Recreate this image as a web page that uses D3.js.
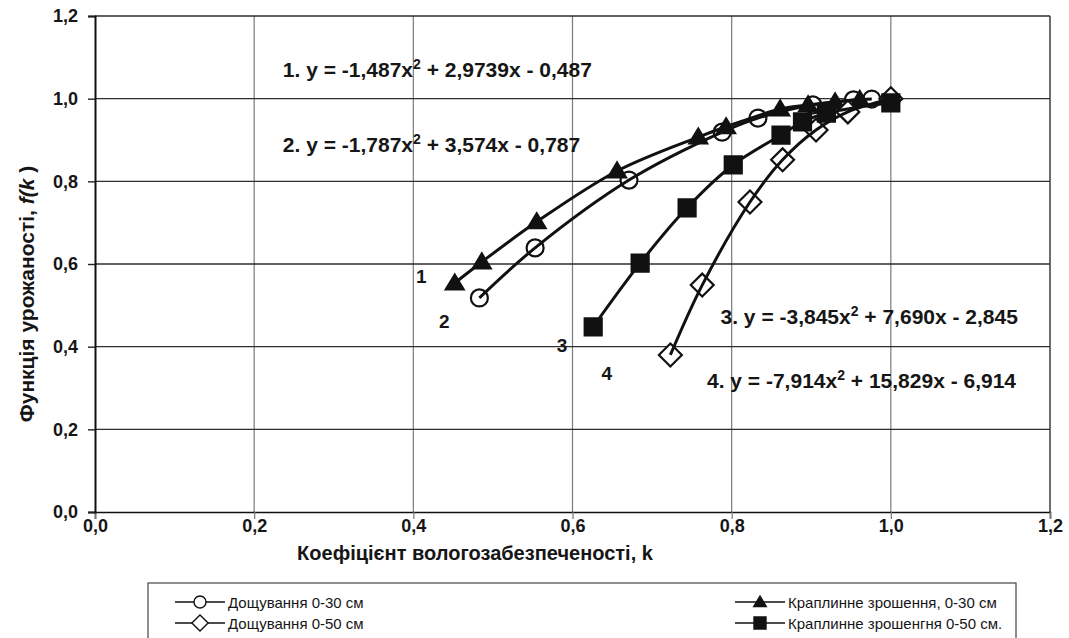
<!DOCTYPE html>
<html>
<head>
<meta charset="utf-8">
<script src="https://cdn.jsdelivr.net/npm/d3@7/dist/d3.min.js"></script>
<style>
  body { margin: 0; background: #fff; }
  svg { display: block; }
  text { font-family: "Liberation Sans", Arial, sans-serif; fill: #161616; }
</style>
</head>
<body>
<div id="chart"></div>
<script>
// Дощування 0-30 см (circles)
const kRain30 = [0.483, 0.553, 0.671, 0.788, 0.833, 0.902, 0.953, 0.976];
const fRain30 = [0.518, 0.639, 0.803, 0.919, 0.953, 0.985, 0.997, 0.999];
// Краплинне зрошення, 0-30 см (triangles)
const kDrip30 = [0.452, 0.486, 0.555, 0.656, 0.758, 0.793, 0.861, 0.896, 0.930, 0.961];
const fDrip30 = [0.554, 0.605, 0.702, 0.825, 0.907, 0.932, 0.975, 0.985, 0.992, 0.998];
// Дощування 0-50 см (diamonds)
const kRain50 = [0.723, 0.763, 0.823, 0.864, 0.906, 0.946, 1.0];
const fRain50 = [0.380, 0.549, 0.750, 0.852, 0.924, 0.968, 1.0];
// Краплинне зрошенгня 0-50 см. (squares)
const kDrip50 = [0.626, 0.685, 0.744, 0.802, 0.862, 0.889, 0.919, 1.0];
const fDrip50 = [0.448, 0.602, 0.736, 0.840, 0.912, 0.944, 0.965, 0.990];

const xTicks = [0, 0.2, 0.4, 0.6, 0.8, 1.0, 1.2];
const yTicks = [0, 0.2, 0.4, 0.6, 0.8, 1.0, 1.2];

const legendNames = ['Дощування 0-30 см', 'Краплинне зрошення, 0-30 см',
                     'Дощування 0-50 см', 'Краплинне зрошенгня 0-50 см.'];

// equation labels, anchored in data units
const equations = [
  { n: '1.', a: '-1,487', b: '2,9739', c: '0,487', k: 0.236, f: 1.052 },
  { n: '2.', a: '-1,787', b: '3,574',  c: '0,787', k: 0.236, f: 0.871 },
  { n: '3.', a: '-3,845', b: '7,690',  c: '2,845', k: 0.786, f: 0.455 },
  { n: '4.', a: '-7,914', b: '15,829', c: '6,914', k: 0.769, f: 0.300 }
];
const curveLabels = [
  { t: '1', k: 0.41, f: 0.553 },
  { t: '2', k: 0.439, f: 0.444 },
  { t: '3', k: 0.587, f: 0.387 },
  { t: '4', k: 0.643, f: 0.319 }
];

const width = 1069, height = 638;
const margin = { top: 16, right: 19, bottom: 126, left: 95 };

const svg = d3.select('#chart').append('svg')
  .attr('width', width).attr('height', height);

const x = d3.scaleLinear().domain([0, 1.2])
  .range([margin.left, width - margin.right]);
const y = d3.scaleLinear().domain([0, 1.2])
  .range([height - margin.bottom, margin.top]);

const fmt = d => d3.format('.1f')(d).replace('.', ',');

// grid
svg.append('g')
  .selectAll('line').data(xTicks.slice(1, -1)).join('line')
    .attr('x1', d => x(d)).attr('x2', d => x(d))
    .attr('y1', y(0)).attr('y2', y(1.2))
    .attr('stroke', '#7a7a7a').attr('stroke-width', 1.2);
svg.append('g')
  .selectAll('line').data(yTicks.slice(1)).join('line')
    .attr('x1', x(0)).attr('x2', x(1.2))
    .attr('y1', d => y(d)).attr('y2', d => y(d))
    .attr('stroke', '#2e2e2e').attr('stroke-width', 1.4);
svg.append('line')
  .attr('x1', x(1.2)).attr('x2', x(1.2)).attr('y1', y(0)).attr('y2', y(1.2))
  .attr('stroke', '#2e2e2e').attr('stroke-width', 1.4);

// axes
const xAxis = g => g
  .attr('transform', `translate(0,${y(0)})`)
  .call(d3.axisBottom(x).tickValues(xTicks).tickFormat(fmt).tickSize(7).tickPadding(0))
  .call(g => g.select('.domain').attr('stroke', '#111').attr('stroke-width', 1.6))
  .call(g => g.selectAll('.tick line').attr('stroke', '#777').attr('stroke-width', 1.2))
  .call(g => g.selectAll('.tick text')
      .attr('font-size', 18).attr('font-weight', 'bold').attr('fill', '#161616'));
svg.append('g').call(xAxis);

const yAxis = g => g
  .attr('transform', `translate(${x(0)},0)`)
  .call(d3.axisLeft(y).tickValues(yTicks).tickFormat(fmt).tickSize(7).tickPadding(10))
  .call(g => g.select('.domain').attr('stroke', '#111').attr('stroke-width', 2))
  .call(g => g.selectAll('.tick line').attr('stroke', '#222').attr('stroke-width', 1.4))
  .call(g => g.selectAll('.tick text')
      .attr('font-size', 18).attr('font-weight', 'bold').attr('fill', '#161616'));
svg.append('g').call(yAxis);

// axis titles
svg.append('text')
  .attr('x', 475).attr('y', 560)
  .attr('text-anchor', 'middle').attr('font-size', 20).attr('font-weight', 'bold')
  .text('Коефіцієнт вологозабезпеченості, k');

const yt = svg.append('text')
  .attr('transform', `translate(34,${(y(0) + y(1.2)) / 2 + 30}) rotate(-90)`)
  .attr('text-anchor', 'middle').attr('font-size', 21).attr('font-weight', 'bold');
yt.append('tspan').text('Функція урожаності,  ');
yt.append('tspan').attr('font-style', 'italic').text('f(k');
yt.append('tspan').text(' )');

// series
const line = d3.line().curve(d3.curveCatmullRom.alpha(0.5))
  .x(d => x(d[0])).y(d => y(d[1]));
const zip = (ks, fs) => ks.map((k, i) => [k, fs[i]]);

const series = [
  { pts: zip(kRain30, fRain30), sym: 'circle' },
  { pts: zip(kDrip30, fDrip30), sym: 'triangle' },
  { pts: zip(kRain50, fRain50), sym: 'diamond' },
  { pts: zip(kDrip50, fDrip50), sym: 'square' }
];

const symbolPath = (sym, s) => {
  if (sym === 'circle') return d3.symbol(d3.symbolCircle, Math.PI * s * s)();
  if (sym === 'triangle') return `M0,${-s}L${s * 1.05},${s * 0.75}L${-s * 1.05},${s * 0.75}Z`;
  if (sym === 'square') return `M${-s},${-s}H${s}V${s}H${-s}Z`;
  return `M0,${-s * 1.35}L${s * 1.35},0L0,${s * 1.35}L${-s * 1.35},0Z`;
};
const filled = sym => sym === 'triangle' || sym === 'square';

const marks = svg.append('g');
series.forEach(sr => {
  marks.append('g').selectAll('path').data(sr.pts).join('path')
    .attr('transform', d => `translate(${x(d[0])},${y(d[1])})`)
    .attr('d', symbolPath(sr.sym, 8.5))
    .attr('fill', filled(sr.sym) ? '#111' : '#fff')
    .attr('stroke', '#111').attr('stroke-width', 2.2);
});
series.forEach(sr => {
  svg.append('path').datum(sr.pts)
    .attr('fill', 'none').attr('stroke', '#111').attr('stroke-width', 3)
    .attr('stroke-linejoin', 'round').attr('d', line);
});

// equations
equations.forEach(e => {
  const t = svg.append('text')
    .attr('x', x(e.k)).attr('y', y(e.f))
    .attr('font-size', 21).attr('font-weight', 'bold');
  t.append('tspan').text(`${e.n} y = ${e.a}x`);
  t.append('tspan').attr('font-size', 14).attr('dy', -8).text('2');
  t.append('tspan').attr('dy', 8).text(` + ${e.b}x  - ${e.c}`);
});
curveLabels.forEach(c => {
  svg.append('text').attr('x', x(c.k)).attr('y', y(c.f))
    .attr('text-anchor', 'middle').attr('font-size', 19).attr('font-weight', 'bold')
    .text(c.t);
});

// legend
const lg = svg.append('g');
lg.append('rect')
  .attr('x', 148).attr('y', 583).attr('width', 868).attr('height', 62)
  .attr('fill', '#fff').attr('stroke', '#444').attr('stroke-width', 1.2);
const legendSyms = ['circle', 'triangle', 'diamond', 'square'];
legendNames.forEach((name, i) => {
  const col = i % 2, row = Math.floor(i / 2);
  const lx = col === 0 ? 175 : 735;
  const ly = 602 + row * 21;
  const g = lg.append('g').attr('transform', `translate(${lx},${ly})`);
  g.append('line').attr('x1', 0).attr('x2', 50).attr('stroke', '#111').attr('stroke-width', 1.6);
  g.append('path').attr('transform', 'translate(25,0)')
    .attr('d', symbolPath(legendSyms[i], 6))
    .attr('fill', filled(legendSyms[i]) ? '#111' : '#fff')
    .attr('stroke', '#111').attr('stroke-width', 1.4);
  g.append('text').attr('x', 53).attr('y', 5.5)
    .attr('font-size', 15).text(name);
});
</script>
</body>
</html>
